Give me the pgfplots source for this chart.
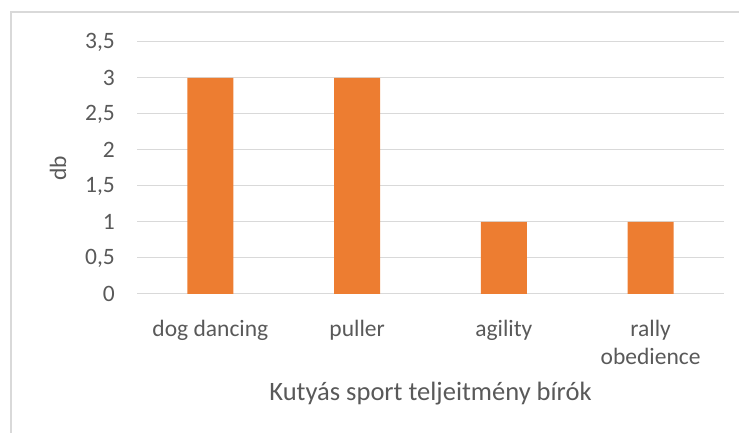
\documentclass[border=0pt]{standalone}
\usepackage{pgfplots}
\pgfplotsset{compat=1.18}
\usepackage{fontspec}
\setmainfont{Carlito}
\definecolor{barorange}{HTML}{ED7D31}
\definecolor{gridgray}{HTML}{D9D9D9}
\definecolor{textgray}{HTML}{595959}
\begin{document}
\begin{tikzpicture}[x=1pt,y=1pt]
\useasboundingbox (0,0) rectangle (739,433);
\draw[gridgray, line width=1.3pt] (11,0) -- (11,421) -- (739,421);
\begin{axis}[
  at={(137pt,139pt)}, anchor=south west,
  scale only axis, width=587pt, height=252pt,
  xmin=-0.5, xmax=3.5, ymin=0, ymax=3.5,
  axis x line*=bottom, axis y line*=left,
  x axis line style={draw=gridgray, line width=1pt, -},
  y axis line style={draw=none},
  xtick={0,1,2,3},
  xticklabels={dog dancing, puller, agility, {rally\\obedience}},
  xtick style={draw=none},
  extra x ticks={-0.5,0.5,1.5,2.5,3.5},
  extra x tick labels={},
  extra x tick style={tick style={draw=gridgray, line width=1pt}, major tick length=7pt, tick align=outside},
  ytick={0,0.5,1,1.5,2,2.5,3,3.5},
  yticklabels={0,{0,5},1,{1,5},2,{2,5},3,{3,5}},
  ytick style={draw=none},
  ymajorgrids, grid style={gridgray, line width=1pt},
  tick label style={font=\fontsize{23.5}{28}\selectfont, text=textgray},
  xticklabel style={anchor=north, inner sep=0pt, align=center, yshift=-22pt},
  yticklabel style={anchor=east, inner sep=0pt, xshift=-22pt},
  xlabel={Kutyás sport teljeitmény bírók},
  xlabel style={font=\fontsize{26.5}{32}\selectfont, text=textgray, at={(axis description cs:0.5,0)}, anchor=base, yshift=-107pt},
  ylabel={db},
  ylabel style={font=\fontsize{23.5}{28}\selectfont, text=textgray, at={(axis description cs:-0.1346,0.5)}, anchor=center},
  ybar, bar width=46pt,
]
\addplot[fill=barorange, draw=none] coordinates {(0,3) (1,3) (2,1) (3,1)};
\end{axis}
\end{tikzpicture}
\end{document}
